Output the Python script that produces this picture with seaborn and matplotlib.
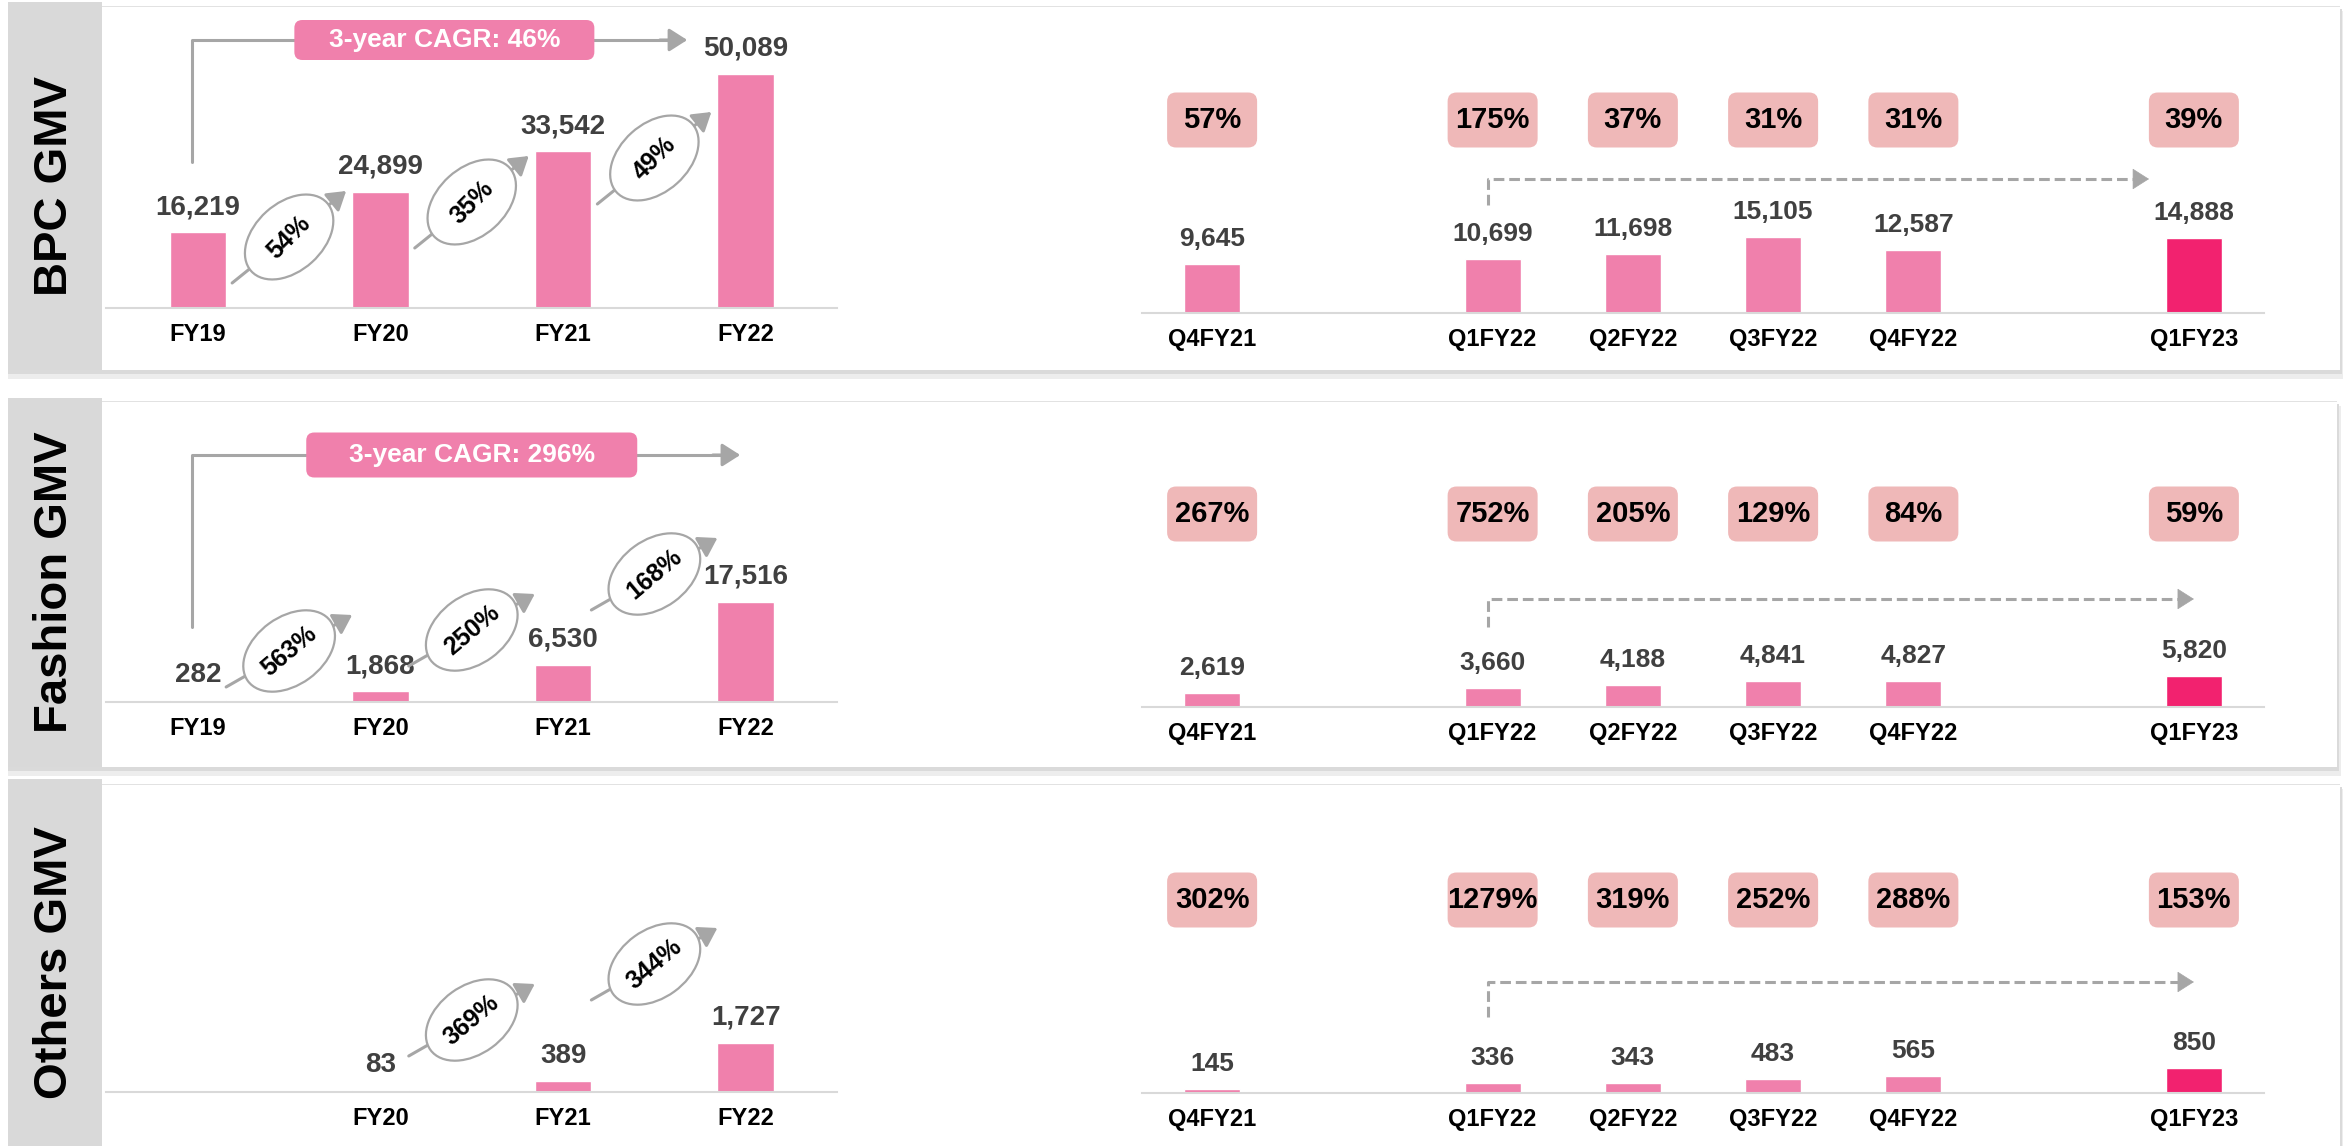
import numpy as np
import pandas as pd
import matplotlib.pyplot as plt
import seaborn as sns
from matplotlib.patches import Rectangle, Ellipse, FancyBboxPatch
from matplotlib.transforms import Affine2D, ScaledTranslation, blended_transform_factory

# Data
row_titles = ['BPC GMV', 'Fashion GMV', 'Others GMV']

years = ['FY19', 'FY20', 'FY21', 'FY22']
bpc_annual = [16219, 24899, 33542, 50089]
fashion_annual = [282, 1868, 6530, 17516]
others_annual = [np.nan, 83, 389, 1727]
bpc_yoy = ['54%', '35%', '49%']
fashion_yoy = ['563%', '250%', '168%']
others_yoy = [None, '369%', '344%']
bpc_cagr = '3-year CAGR: 46%'
fashion_cagr = '3-year CAGR: 296%'
others_cagr = None

quarters = ['Q4FY21', 'Q1FY22', 'Q2FY22', 'Q3FY22', 'Q4FY22', 'Q1FY23']
bpc_qtr = [9645, 10699, 11698, 15105, 12587, 14888]
fashion_qtr = [2619, 3660, 4188, 4841, 4827, 5820]
others_qtr = [145, 336, 343, 483, 565, 850]
bpc_qtr_yoy = ['57%', '175%', '37%', '31%', '31%', '39%']
fashion_qtr_yoy = ['267%', '752%', '205%', '129%', '84%', '59%']
others_qtr_yoy = ['302%', '1279%', '319%', '252%', '288%', '153%']
slot_order = ['Q4FY21', ' ', 'Q1FY22', 'Q2FY22', 'Q3FY22', 'Q4FY22', '  ', 'Q1FY23']

annual = [bpc_annual, fashion_annual, others_annual]
annual_yoy = [bpc_yoy, fashion_yoy, others_yoy]
cagr = [bpc_cagr, fashion_cagr, others_cagr]
qtr = [bpc_qtr, fashion_qtr, others_qtr]
qtr_yoy = [bpc_qtr_yoy, fashion_qtr_yoy, others_qtr_yoy]

# Colours
PINK = '#F080AC'
HOT = '#F2226F'
BOX = '#EFB8B8'
GREY = '#A6A6A6'
AXIS = '#D9D9D9'
VAL = '#404040'

# Layout (pixels of the 2343x1146 canvas)
W, H = 2343, 1146
AX_H = 290
left_x = (106.5, 837)
right_x = (1142, 2264)
left_base = [308, 702, 1092]
right_base = [313, 707, 1093]
left_upp = [214, 175, 35]
right_upp = [198.5, 187.7, 34]
ell_y = [[71, 106, 150], [51, 72, 128], [51, 72, 128]]
arr_half = [(57, 46), (63, 36), (63, 36)]
ell_ang = [42, 36, 36]
txt_ang = [45, 40, 40]
cagr_y = [268, 247, None]
cagr_low = [146, 75, None]
cagr_tip = [2.68, 2.97, None]
cagr_xc = [1.35, 1.5, None]
cagr_box = [(300, 40), (331, 45), None]
dash_lo = [108, 80, 76]
dash_hi = [134, 108, 111]
dash_tip = [6.68, 7.0, 7.0]
strip_y = [(2, 370), (398, 767), (779, 1146)]
panel_y = [(7, 370), (402, 767), (785, 1150)]
panel_r = [2340, 2337, 2340]

sns.set_style('white')
plt.rcParams['font.family'] = ['Liberation Sans', 'DejaVu Sans']
plt.rcParams['font.weight'] = 'bold'

fig = plt.figure(figsize=(W / 100, H / 100), dpi=100)
fig.patch.set_facecolor('white')

# Background panels
bg = fig.add_axes([0, 0, 1, 1], zorder=-5)
bg.set_xlim(0, W)
bg.set_ylim(H, 0)
bg.axis('off')
for r in range(3):
    y0, y1 = panel_y[r]
    s0, s1 = strip_y[r]
    bg.add_patch(Rectangle((8, y0 + 4), panel_r[r] - 4, y1 - y0 + 5, color='#EDEDED', lw=0))
    bg.add_patch(Rectangle((8, y0 + 2), panel_r[r] - 6, y1 - y0 + 2, color='#DADADA', lw=0))
    bg.add_patch(Rectangle((102, y0 - 1), panel_r[r] - 102, 1.5, color='#E2E2E2', lw=0))
    bg.add_patch(Rectangle((102, y0), panel_r[r] - 102, y1 - y0, color='white', lw=0))
    bg.add_patch(Rectangle((8, s0), 94, s1 - s0, color='#D9D9D9', lw=0))
    bg.text(55, (s0 + s1) / 2, row_titles[r], rotation=90, ha='center', va='center',
            fontsize=34, weight='bold', color='black')


def style_axis(ax, n, upp):
    for s in ['top', 'right', 'left']:
        ax.spines[s].set_visible(False)
    ax.spines['bottom'].set_color(AXIS)
    ax.spines['bottom'].set_linewidth(1.5)
    ax.set_xlim(-0.5, n - 0.5)
    ax.set_ylim(0, upp * AX_H)
    ax.set_yticks([])
    ax.set_ylabel('')
    ax.set_xlabel('')
    ax.set_xticks(np.arange(-0.5, n), minor=True)
    ax.tick_params(axis='x', which='major', length=0, pad=11, labelsize=17, labelcolor='black')
    ax.tick_params(axis='x', which='minor', length=4.5, width=1.5, color=AXIS, direction='out')
    ax.patch.set_alpha(0)
    for lab in ax.get_xticklabels():
        lab.set_fontweight('bold')


def at(ax, x, ypx):
    blend = blended_transform_factory(ax.transData, ax.transAxes)
    return Affine2D() + ScaledTranslation(x, ypx / AX_H, blend)


for r in range(3):
    # Annual chart
    ax = fig.add_axes([left_x[0] / W, 1 - left_base[r] / H,
                       (left_x[1] - left_x[0]) / W, AX_H / H])
    df = pd.DataFrame({'year': years, 'gmv': annual[r]}).dropna()
    sns.barplot(data=df, x='year', y='gmv', order=years, color=PINK, width=0.31,
                saturation=1, ax=ax)
    style_axis(ax, len(years), left_upp[r])
    ax.set_xticks(range(len(years)))
    ax.set_xticklabels([y if not np.isnan(v) else '' for y, v in zip(years, annual[r])],
                       fontweight='bold')
    blend = blended_transform_factory(ax.transData, ax.transAxes)
    for i, v in enumerate(annual[r]):
        if np.isnan(v):
            continue
        ax.annotate(f'{int(v):,}', (i, v), xytext=(0, 18), textcoords='offset pixels',
                    ha='center', va='baseline', fontsize=20, weight='bold', color=VAL,
                    annotation_clip=False)
    # year-on-year growth bubbles
    dx, dy = arr_half[r]
    for i, g in enumerate(annual_yoy[r]):
        if g is None:
            continue
        tr = at(ax, i + 0.5, ell_y[r][i])
        ax.annotate('', xy=(dx, dy), xycoords=tr, xytext=(-dx, -dy), textcoords=tr,
                    arrowprops=dict(arrowstyle='-|>,head_length=0.55,head_width=0.35',
                                    mutation_scale=20, color=GREY, lw=2.2,
                                    shrinkA=0, shrinkB=0), zorder=3, annotation_clip=False)
        ax.add_patch(Ellipse((0, 0), 102, 68, angle=ell_ang[r], transform=tr, fc='white',
                             ec=GREY, lw=1.6, zorder=4, clip_on=False))
        ax.text(0, 0, g, transform=tr, rotation=txt_ang[r], rotation_mode='anchor',
                ha='center', va='center', fontsize=18, weight='bold', color='black', zorder=5)
    # 3-year CAGR connector
    if cagr[r] is not None:
        xv = -0.03
        ax.plot([xv, xv, cagr_tip[r] - 0.1],
                [cagr_low[r] / AX_H, cagr_y[r] / AX_H, cagr_y[r] / AX_H],
                transform=blend, color=GREY, lw=2.2, clip_on=False, zorder=3)
        ax.annotate('', xy=(cagr_tip[r], cagr_y[r] / AX_H), xycoords=blend,
                    xytext=(cagr_tip[r] - 0.15, cagr_y[r] / AX_H), textcoords=blend,
                    arrowprops=dict(arrowstyle='-|>,head_length=0.55,head_width=0.35',
                                    mutation_scale=20, color=GREY, lw=2.2,
                                    shrinkA=0, shrinkB=0), annotation_clip=False)
        bw, bh = cagr_box[r]
        tr = at(ax, cagr_xc[r], cagr_y[r])
        ax.add_patch(FancyBboxPatch((-bw / 2 + 8, -bh / 2 + 8), bw - 16, bh - 16,
                                    boxstyle='round,pad=8,rounding_size=8', transform=tr,
                                    fc=PINK, ec='none', zorder=4, clip_on=False))
        ax.text(0, 0, cagr[r], transform=tr, ha='center', va='center', fontsize=19,
                weight='bold', color='white', zorder=5)

    # Quarterly chart
    ax = fig.add_axes([right_x[0] / W, 1 - right_base[r] / H,
                       (right_x[1] - right_x[0]) / W, AX_H / H])
    df = pd.DataFrame({'quarter': quarters, 'gmv': qtr[r]})
    pal = {q: (HOT if q == 'Q1FY23' else PINK) for q in quarters}
    sns.barplot(data=df, x='quarter', y='gmv', hue='quarter', order=slot_order,
                palette=pal, width=0.40, saturation=1, legend=False, ax=ax)
    style_axis(ax, len(slot_order), right_upp[r])
    ax.set_xticks(range(len(slot_order)))
    ax.set_xticklabels([s.strip() for s in slot_order], fontweight='bold')
    blend = blended_transform_factory(ax.transData, ax.transAxes)
    for q, v, g in zip(quarters, qtr[r], qtr_yoy[r]):
        i = slot_order.index(q)
        ax.annotate(f'{v:,}', (i, v), xytext=(0, 18), textcoords='offset pixels',
                    ha='center', va='baseline', fontsize=19, weight='bold', color=VAL,
                    annotation_clip=False)
        tr = at(ax, i, 193)
        ax.add_patch(FancyBboxPatch((-45 + 9, -27.5 + 9), 90 - 18, 55 - 18,
                                    boxstyle='round,pad=9,rounding_size=9', transform=tr,
                                    fc=BOX, ec='none', zorder=4, clip_on=False))
        ax.text(0, 0, g, transform=tr, ha='center', va='center', fontsize=21,
                weight='bold', color='black', zorder=5)
    # dashed year-on-year connector
    xs = 1.97
    ax.plot([xs, xs, dash_tip[r] - 0.08],
            [dash_lo[r] / AX_H, dash_hi[r] / AX_H, dash_hi[r] / AX_H],
            transform=blend, color=GREY, lw=2.2, dashes=(3.5, 1.6), clip_on=False, zorder=3)
    ax.annotate('', xy=(dash_tip[r], dash_hi[r] / AX_H), xycoords=blend,
                xytext=(dash_tip[r] - 0.1, dash_hi[r] / AX_H), textcoords=blend,
                arrowprops=dict(arrowstyle='-|>,head_length=0.55,head_width=0.35',
                                mutation_scale=20, color=GREY, lw=0.5,
                                shrinkA=0, shrinkB=0), annotation_clip=False)

fig.savefig('out.png', dpi=100)
